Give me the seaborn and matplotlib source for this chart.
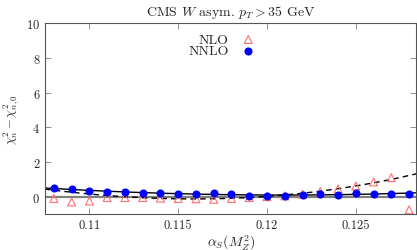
import numpy as np
import pandas as pd
import matplotlib
matplotlib.use("Agg")
import matplotlib.pyplot as plt
import seaborn as sns

# ==================================================
# DATA
# ==================================================
alphas = [0.108, 0.109, 0.110, 0.111, 0.112, 0.113, 0.114, 0.115, 0.116, 0.117, 0.118,
          0.119, 0.120, 0.121, 0.122, 0.123, 0.124, 0.125, 0.126, 0.127, 0.128]
nlo = [-0.10, -0.30, -0.25, -0.05, -0.05, -0.05, -0.08, -0.10, -0.12, -0.15, -0.10,
       -0.05, 0.00, 0.05, 0.15, 0.30, 0.45, 0.62, 0.85, 1.10, -0.75]
nnlo = [0.50, 0.43, 0.35, 0.30, 0.25, 0.20, 0.22, 0.18, 0.18, 0.20, 0.15,
        0.05, 0.05, 0.05, 0.10, 0.15, 0.12, 0.20, 0.15, 0.18, 0.18]

# dashed NLO fit curve
fit_x = [0.1075, 0.109, 0.111, 0.113, 0.115, 0.117, 0.119, 0.121, 0.123, 0.125, 0.127, 0.1285]
nlo_fit = [0.46, 0.25, 0.04, -0.07, -0.10, -0.09, -0.03, 0.09, 0.30, 0.62, 1.00, 1.35]

df = pd.DataFrame({"alphas": alphas, "NLO": nlo, "NNLO": nnlo})

# ==================================================
# STYLE
# ==================================================
sns.set_style("ticks")
plt.rcParams["font.family"] = ["serif"]
plt.rcParams["font.serif"] = ["cmr10", "DejaVu Serif"]
plt.rcParams["mathtext.fontset"] = "cm"
plt.rcParams["axes.formatter.use_mathtext"] = True
plt.rcParams["font.size"] = 9

fig = plt.figure(figsize=(4.17, 2.51), dpi=100)
ax = fig.add_axes([0.108, 0.143, 0.89, 0.761])

# ==================================================
# FITS
# ==================================================
xfit = np.linspace(0.1075, 0.1285, 200)
c_nnlo = np.polyfit(df["alphas"], df["NNLO"], 2)
c_nlo = np.polyfit(fit_x, nlo_fit, 3)

ax.axhline(0, color="gray", lw=1.6, zorder=1)
sns.lineplot(x=xfit, y=np.polyval(c_nnlo, xfit), color="black", lw=1, ax=ax, zorder=2)
sns.lineplot(x=xfit, y=np.polyval(c_nlo, xfit), color="black", lw=1,
             linestyle=(0, (4, 3)), ax=ax, zorder=2)

sns.scatterplot(data=df, x="alphas", y="NLO", marker="^", s=32,
                facecolor="none", edgecolor="#ff7070", linewidth=0.8,
                label="NLO", ax=ax, zorder=3)
sns.scatterplot(data=df, x="alphas", y="NNLO", marker="o", s=34,
                color="#0000ff", edgecolor="#0000ff", linewidth=0,
                label="NNLO", ax=ax, zorder=4)

# ==================================================
# AXES
# ==================================================
ax.set_xlim(0.1075, 0.1284)
ax.set_ylim(-1, 10)
ax.set_xticks([0.11, 0.115, 0.12, 0.125])
ax.set_xticklabels(["0.11", "0.115", "0.12", "0.125"])
ax.set_yticks([0, 2, 4, 6, 8, 10])
ax.tick_params(direction="in", top=True, right=True, length=4, width=0.6,
               color="gray", labelsize=9)
for sp in ax.spines.values():
    sp.set_color("#555555")
    sp.set_linewidth(0.8)

ax.set_xlabel(r"$\alpha_S(M_Z^2)$", fontsize=10, labelpad=1)
ax.set_ylabel(r"$\chi^2_n - \chi^2_{n,0}$", fontsize=9, labelpad=4)
ax.set_title(r"CMS $W$ asym. $p_T > 35$ GeV", fontsize=10, pad=6)

ax.legend(loc="upper right", bbox_to_anchor=(0.60, 0.975), frameon=False,
          markerfirst=False, fontsize=10, handletextpad=0.4, labelspacing=-0.1,
          borderaxespad=0)

fig.savefig("out.png", dpi=100)
